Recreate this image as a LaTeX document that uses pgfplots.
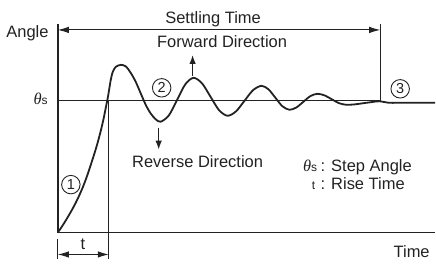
\documentclass[border=0pt]{standalone}
\usepackage{pgfplots}
\pgfplotsset{compat=1.18}
\usepackage{fontspec}
\setmainfont{Liberation Sans}
\newfontfamily\serifgreek{Liberation Serif}
\usetikzlibrary{arrows.meta}
\definecolor{ink}{HTML}{222222}
\begin{document}
\begin{tikzpicture}[font=\fontsize{16.5}{19}\selectfont, every node/.style={text=ink}]
\begin{axis}[
  width=436pt, height=264pt, scale only axis,
  xmin=0, xmax=436, ymin=0, ymax=264, y dir=reverse,
  axis lines=none, clip=false,
]
\path (axis cs:0,0) rectangle (axis cs:436,264);
% axes
\draw[ink, line width=1.3pt] (axis cs:58,24) -- (axis cs:58,233) -- (axis cs:436,233);
% step angle line
\draw[ink, line width=1pt] (axis cs:58,101) -- (axis cs:381,101);
% rise time line
\draw[ink, line width=0.9pt] (axis cs:109,101) -- (axis cs:109,260);
% settling time
\draw[ink, line width=0.9pt] (axis cs:381,24) -- (axis cs:381,101);
\draw[ink, line width=0.9pt, {Latex[length=11pt,width=6.5pt]}-{Latex[length=11pt,width=6.5pt]}] (axis cs:58,30) -- (axis cs:381,30);
% rise time arrow
\draw[ink, line width=0.9pt] (axis cs:58,239) -- (axis cs:58,260);
\draw[ink, line width=0.9pt, {Latex[length=11pt,width=6.5pt]}-{Latex[length=11pt,width=6.5pt]}] (axis cs:58,255) -- (axis cs:109,255);
% direction arrows
\draw[ink, line width=1.4pt, -{Latex[length=9pt,width=6.5pt]}] (axis cs:193,76) -- (axis cs:193,55);
\draw[ink, line width=1.4pt, -{Latex[length=9pt,width=6.5pt]}] (axis cs:159,128) -- (axis cs:159,150);
% response curve
\addplot[ink, line width=1.8pt, smooth, tension=0.5] coordinates {
(58,233) (64,224) (70,214) (76,203) (82,190) (87,177) (92,162) (97,146)
(101,131) (104,118) (106,108) (108,98) (109.5,89) (111,80) (113,72) (116,67) (121,65)
(126,66.5) (131,73) (136,82) (141,93.5) (146,105) (151,113.7) (156,119.5) (161,122)
(169.25,115.6) (177.5,100) (185.75,84.4) (194,78)
(202.5,83.6) (211,97) (219.5,110.4) (228,116)
(236.5,111.6) (245,101) (253.5,90.4) (262,86)
(269,89.5) (276,98) (283,106.5) (290,110)
(297,107.7) (304,102) (311,96.3) (318,94)
(325.25,95.6) (332.5,99.5) (339.75,103.4) (347,105)
(355.25,104.6) (363.5,103.5) (371.75,102.4) (380,101.5)
(390,103) (400,103) (436,103)
};
% labels
\node[anchor=base] at (axis cs:27.5,37.7) {Angle};
\node[anchor=base] at (axis cs:213.5,23.3) {Settling Time};
\node[anchor=base] at (axis cs:222.5,47.5) {Forward Direction};
\node[anchor=base] at (axis cs:198,167.5) {Reverse Direction};
\node[anchor=base] at (axis cs:412.5,258) {Time};
\node[anchor=base] at (axis cs:83,250) {t};
\node[anchor=base east, inner sep=0pt] at (axis cs:48,105) {{\serifgreek\itshape θ}{\fontsize{12}{14}\selectfont s}};
\node[anchor=base east, inner sep=0pt] at (axis cs:318,172) {{\serifgreek\itshape θ}{\fontsize{12}{14}\selectfont s}};
\node[anchor=base west, inner sep=0pt] at (axis cs:321,172) {: Step Angle};
\node[anchor=base east, inner sep=0pt] at (axis cs:316,190) {\fontsize{12}{14}\selectfont t};
\node[anchor=base west, inner sep=0pt] at (axis cs:321,190) {: Rise Time};
% circled numbers
\node[circle, draw=ink, line width=0.9pt, inner sep=0pt, minimum size=18.5pt, font=\fontsize{14.5}{16}\selectfont] at (axis cs:71,185) {1};
\node[circle, draw=ink, line width=0.9pt, inner sep=0pt, minimum size=18.5pt, font=\fontsize{14.5}{16}\selectfont] at (axis cs:162,88) {2};
\node[circle, draw=ink, line width=0.9pt, inner sep=0pt, minimum size=18.5pt, font=\fontsize{14.5}{16}\selectfont] at (axis cs:401,89) {3};
\end{axis}
\end{tikzpicture}
\end{document}
